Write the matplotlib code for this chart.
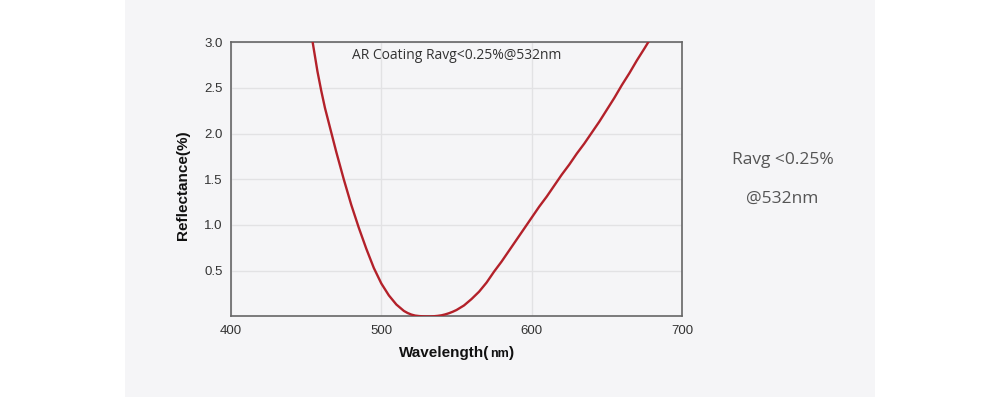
import matplotlib
matplotlib.use('Agg')
import matplotlib.pyplot as plt
from matplotlib.patches import Rectangle
from matplotlib.offsetbox import TextArea, HPacker, AnnotationBbox

# Reflectance curve
wavelength = [454.3, 455, 457.5, 460, 462.5, 465, 470, 475, 480, 485, 490, 495, 500,
              505, 510, 515, 517.5, 520, 522.5, 525, 527.5, 530, 532.5, 535, 537.5,
              540, 542.5, 545, 547.5, 550, 555, 560, 565, 570, 575, 580, 585, 590, 595,
              600, 605, 610, 615, 620, 625, 630, 635, 640, 645, 650, 655, 660, 665,
              670, 675, 677.6]
reflectance = [3.00, 2.93, 2.68, 2.47, 2.28, 2.12, 1.80, 1.50, 1.22, 0.97, 0.74, 0.53,
               0.36, 0.23, 0.13, 0.06, 0.037, 0.02, 0.009, 0.004, 0.001, 0.0, 0.0,
               0.002, 0.006, 0.012, 0.022, 0.035, 0.051, 0.07, 0.12, 0.19, 0.27, 0.37,
               0.49, 0.60, 0.72, 0.84, 0.96, 1.08, 1.20, 1.31, 1.43, 1.55, 1.66, 1.78,
               1.89, 2.01, 2.13, 2.26, 2.39, 2.53, 2.66, 2.80, 2.93, 3.00]

x_ticks = [400, 500, 600, 700]
y_ticks = [0.5, 1.0, 1.5, 2.0, 2.5, 3.0]

title = 'AR Coating Ravg<0.25%@532nm'
side_lines = ['Ravg <0.25%', '@532nm']

panel = '#f5f5f7'
curve_color = '#b3212a'
text_color = '#333333'

fig = plt.figure(figsize=(10, 3.97), dpi=100, facecolor='white')
fig.patches.append(Rectangle((0.125, 0), 0.75, 1, transform=fig.transFigure,
                             facecolor=panel, edgecolor='none', zorder=-5))

ax = fig.add_axes([0.231, 0.203, 0.451, 0.691])
ax.set_zorder(2)
ax.set_facecolor(panel)
ax.plot(wavelength, reflectance, color=curve_color, lw=1.7, solid_joinstyle='round', zorder=3)

ax.set_xlim(400, 700)
ax.set_ylim(0, 3.0)
ax.set_xticks(x_ticks)
ax.set_yticks(y_ticks)
ax.set_xticklabels([str(v) for v in x_ticks])
ax.set_yticklabels([f'{v:.1f}' for v in y_ticks])
ax.tick_params(length=0, labelsize=9.5, colors=text_color, pad=6)
for lab in ax.get_xticklabels() + ax.get_yticklabels():
    lab.set_family('Liberation Sans')
ax.grid(True, color='#e2e2e4', lw=1)
ax.set_axisbelow(True)
for s in ax.spines.values():
    s.set_color('#666666')
    s.set_linewidth(1.2)

ax.text(0.5, 0.98, title, transform=ax.transAxes, ha='center', va='top',
        fontsize=10, family='Open Sans', color=text_color)

ax.set_ylabel('Reflectance(%)', fontsize=11, fontweight='bold', family='Liberation Sans',
              color='#111111')
ax.yaxis.set_label_coords(-0.092, 0.48)

# x label with the smaller "nm"
big = dict(fontsize=11, fontweight='bold', family='Liberation Sans', color='#111111')
small = dict(fontsize=9, fontweight='bold', family='Liberation Sans', color='#111111')
parts = [TextArea('Wavelength(', textprops=big), TextArea('nm', textprops=small),
         TextArea(')', textprops=big)]
xlab = HPacker(children=parts, align='baseline', pad=0, sep=0)
ab = AnnotationBbox(xlab, (0.5, -0.135), xycoords='axes fraction', frameon=False,
                    box_alignment=(0.5, 0.5), pad=0)
ax.add_artist(ab)

fig.text(0.783, 0.597, side_lines[0], ha='center', va='center', fontsize=12.5,
         family='Open Sans', color='#555555')
fig.text(0.782, 0.499, side_lines[1], ha='center', va='center', fontsize=12.5,
         family='Open Sans', color='#555555')

fig.savefig('out.png', dpi=100, facecolor='white')
